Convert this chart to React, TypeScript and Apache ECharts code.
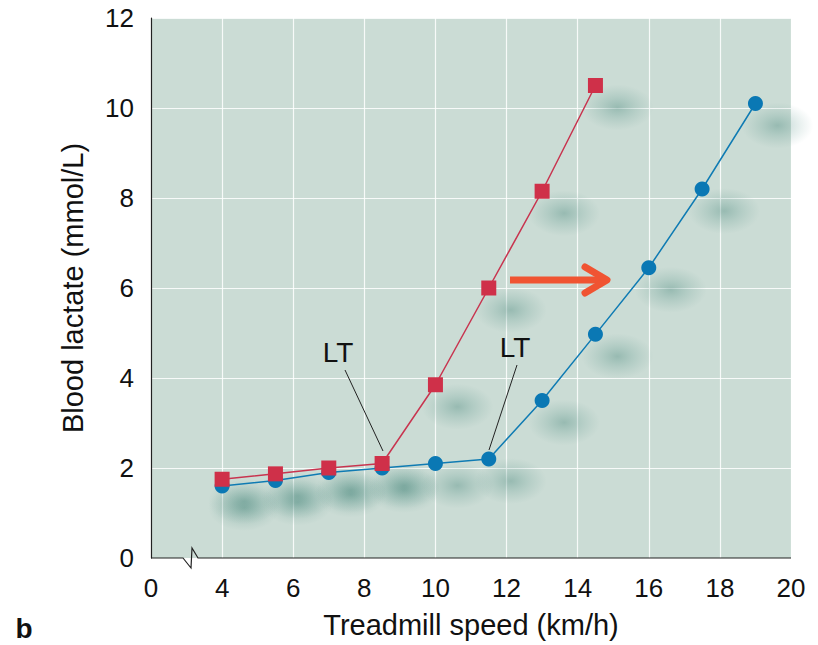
import React, { useEffect, useRef } from "react";
import * as echarts from "echarts";

const speedsTrained = [4, 5.5, 7, 8.5, 10, 11.5, 13, 14.5, 16, 17.5, 19];
const lactateTrained = [1.6, 1.72, 1.9, 2.0, 2.1, 2.2, 3.5, 4.97, 6.45, 8.2, 10.1];
const speedsUntrained = [4, 5.5, 7, 8.5, 10, 11.5, 13, 14.5];
const lactateUntrained = [1.75, 1.87, 2.0, 2.1, 3.85, 6.0, 8.15, 10.5];
const xTicks = [2, 4, 6, 8, 10, 12, 14, 16, 18, 20];
const yTicks = [0, 2, 4, 6, 8, 10, 12];

const FONT = "Liberation Sans, Arial, Helvetica, sans-serif";

const shadowFill = {
  type: "radial",
  x: 0.5,
  y: 0.5,
  r: 0.5,
  colorStops: [
    { offset: 0, color: "rgba(50,120,108,0.42)" },
    { offset: 0.45, color: "rgba(60,130,118,0.22)" },
    { offset: 1, color: "rgba(80,140,130,0)" },
  ],
};

export default function App() {
  const ref = useRef<HTMLDivElement>(null);
  useEffect(() => {
    document.body.style.margin = "0";
    const chart = echarts.init(ref.current!, undefined, { renderer: "svg" });
    const trainedPts = speedsTrained.map((x, i) => [x, lactateTrained[i]]);
    const untrainedPts = speedsUntrained.map((x, i) => [x, lactateUntrained[i]]);
    chart.setOption({
      animation: false,
      backgroundColor: "#ffffff",
      grid: {
        left: 151,
        right: 27,
        top: 18,
        bottom: 87,
        show: true,
        backgroundColor: "#cbdcd5",
        borderWidth: 0,
        outerBoundsMode: "none",
        containLabel: false,
      },
      xAxis: {
        type: "value",
        min: 2,
        max: 20,
        interval: 2,
        name: "Treadmill speed (km/h)",
        nameLocation: "middle",
        nameGap: 52,
        nameTextStyle: { fontFamily: FONT, fontSize: 29, color: "#111" },
        axisLine: { show: false },
        axisTick: { show: false },
        axisLabel: {
          fontFamily: FONT,
          fontSize: 26,
          color: "#111",
          margin: 17,
          formatter: (v: number) => (v === 2 ? "0" : xTicks.includes(v) ? String(v) : ""),
        },
        splitLine: {
          show: true,
          lineStyle: { color: "#ffffff", width: 1.2, opacity: 0.85 },
        },
      },
      yAxis: {
        type: "value",
        min: 0,
        max: 12,
        interval: 2,
        name: "Blood lactate (mmol/L)",
        nameLocation: "middle",
        nameGap: 64,
        nameRotate: 90,
        nameTextStyle: { fontFamily: FONT, fontSize: 29, color: "#111" },
        axisLine: { show: true, lineStyle: { color: "#222", width: 1.2 } },
        axisTick: { show: false },
        axisLabel: {
          fontFamily: FONT,
          fontSize: 26,
          color: "#111",
          margin: 17,
          formatter: (v: number) => (yTicks.includes(v) ? String(v) : ""),
        },
        splitLine: {
          show: true,
          lineStyle: { color: "#ffffff", width: 1.2, opacity: 0.85 },
        },
      },
      series: [
        {
          type: "scatter",
          data: trainedPts,
          symbol: "circle",
          symbolSize: [72, 46],
          symbolOffset: [22, 22],
          itemStyle: { color: shadowFill },
          silent: true,
          z: 1,
        },
        {
          type: "scatter",
          data: untrainedPts,
          symbol: "circle",
          symbolSize: [72, 46],
          symbolOffset: [22, 22],
          itemStyle: { color: shadowFill },
          silent: true,
          z: 1,
        },
        {
          type: "line",
          data: trainedPts,
          symbol: "circle",
          symbolSize: 15,
          lineStyle: { color: "#0f7bb3", width: 1.5 },
          itemStyle: { color: "#0a78b4" },
          z: 3,
        },
        {
          type: "line",
          data: untrainedPts,
          symbol: "rect",
          symbolSize: 15,
          lineStyle: { color: "#c8344f", width: 1.5 },
          itemStyle: { color: "#cf3049" },
          z: 4,
        },
      ],
      graphic: [
        {
          type: "polyline",
          shape: {
            points: [
              [151, 558],
              [183, 558],
              [191, 568],
              [192, 548],
              [198, 558],
              [791, 558],
            ],
          },
          style: { stroke: "#222", lineWidth: 1.2, fill: "none" },
          z: 10,
        },
        {
          type: "text",
          x: 338,
          y: 352,
          style: {
            text: "LT",
            fontFamily: FONT,
            fontSize: 28,
            fill: "#111",
            align: "center",
            verticalAlign: "middle",
          },
          z: 10,
        },
        {
          type: "line",
          shape: { x1: 345, y1: 370, x2: 383, y2: 451 },
          style: { stroke: "#222", lineWidth: 1 },
          z: 10,
        },
        {
          type: "text",
          x: 515,
          y: 347,
          style: {
            text: "LT",
            fontFamily: FONT,
            fontSize: 28,
            fill: "#111",
            align: "center",
            verticalAlign: "middle",
          },
          z: 10,
        },
        {
          type: "line",
          shape: { x1: 517, y1: 365, x2: 489, y2: 450 },
          style: { stroke: "#222", lineWidth: 1 },
          z: 10,
        },
        {
          type: "line",
          shape: { x1: 510, y1: 280, x2: 604, y2: 280 },
          style: { stroke: "#f05432", lineWidth: 7 },
          z: 10,
        },
        {
          type: "polyline",
          shape: {
            points: [
              [585, 267],
              [607, 280],
              [585, 293],
            ],
          },
          style: { stroke: "#f05432", lineWidth: 7, lineCap: "round", lineJoin: "round", fill: "none" },
          z: 10,
        },
        {
          type: "text",
          x: 24,
          y: 628,
          style: {
            text: "b",
            fontFamily: FONT,
            fontSize: 28,
            fontWeight: "bold",
            fill: "#111",
            align: "center",
            verticalAlign: "middle",
          },
          z: 10,
        },
      ],
    });
    return () => chart.dispose();
  }, []);
  return (
    <div
      ref={ref}
      style={{ position: "absolute", left: 0, top: 0, width: 818, height: 645 }}
    />
  );
}
